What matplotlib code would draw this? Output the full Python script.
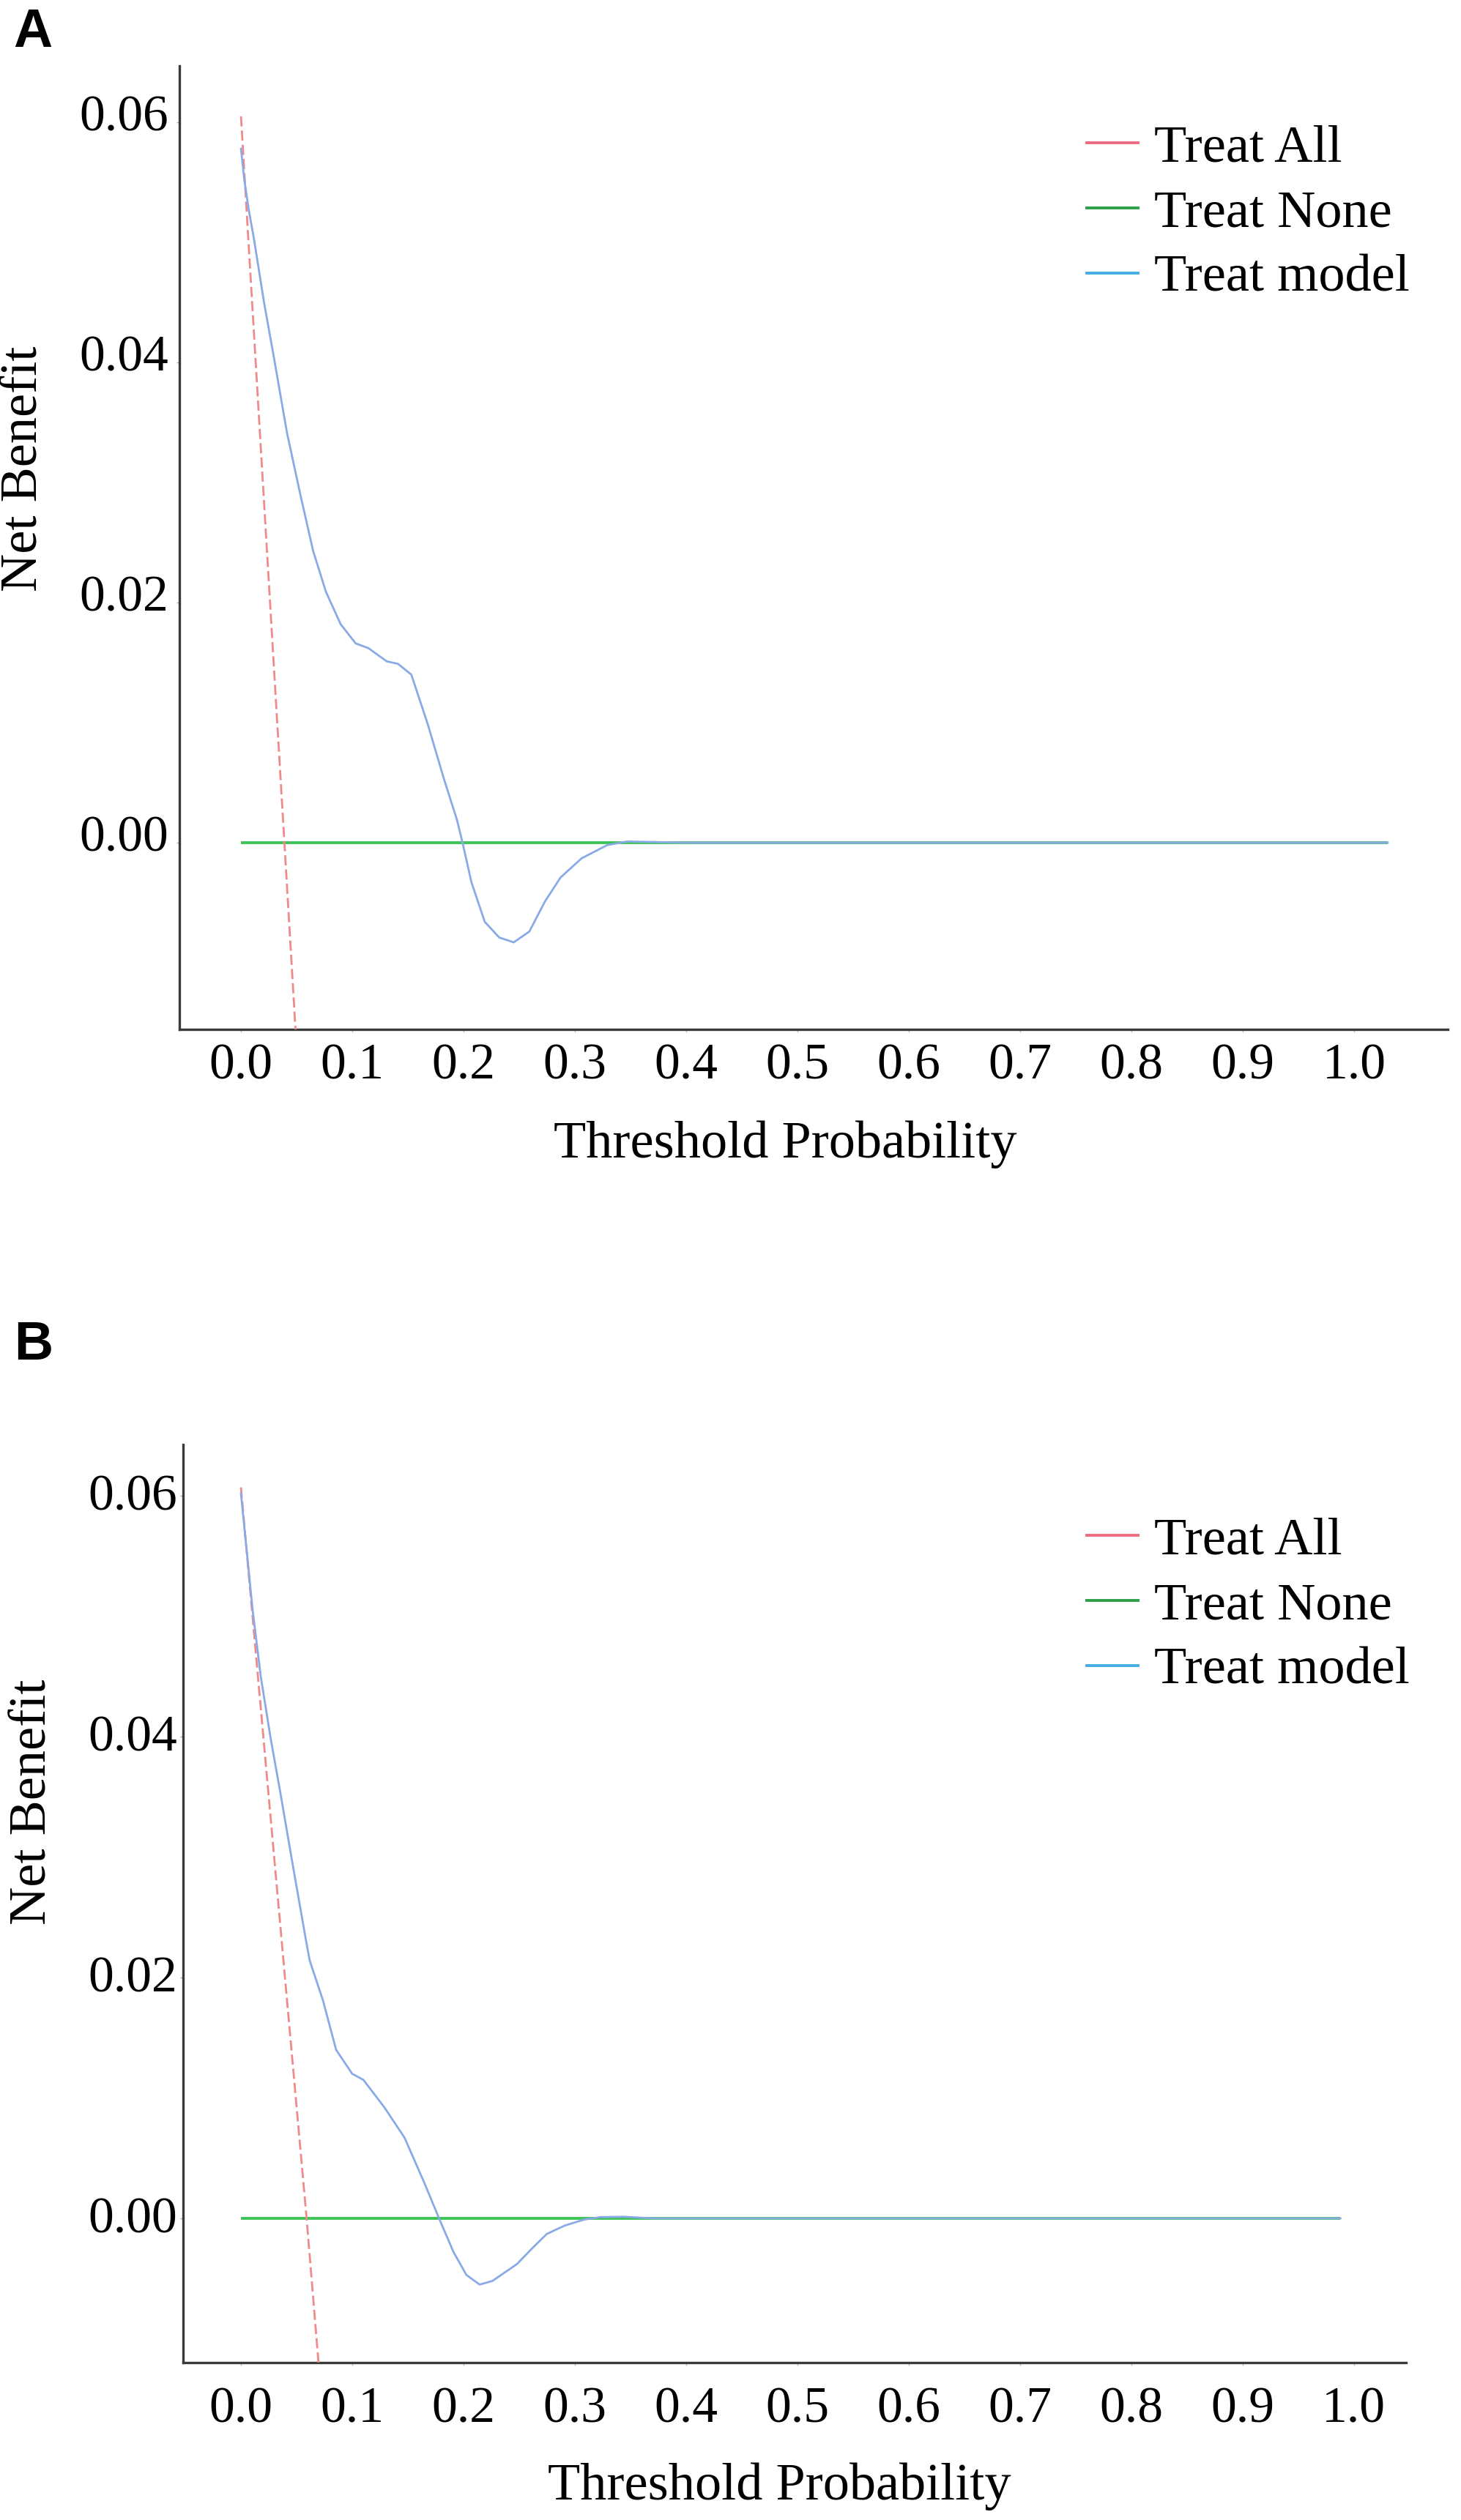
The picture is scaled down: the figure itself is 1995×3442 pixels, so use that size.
import matplotlib
matplotlib.use('Agg')
import matplotlib.pyplot as plt
from matplotlib.lines import Line2D
import matplotlib.transforms as mtransforms

plt.rcParams['font.family'] = ['Liberation Serif', 'DejaVu Serif']

# ---------------- data ----------------
series_labels = ['Treat All', 'Treat None', 'Treat model']
x_ticks = [0.0, 0.1, 0.2, 0.3, 0.4, 0.5, 0.6, 0.7, 0.8, 0.9, 1.0]
x_tick_labels = ['0.0', '0.1', '0.2', '0.3', '0.4', '0.5', '0.6', '0.7', '0.8', '0.9', '1.0']
y_ticks = [0.00, 0.02, 0.04, 0.06]
y_tick_labels = ['0.00', '0.02', '0.04', '0.06']
x_label = 'Threshold Probability'
y_label = 'Net Benefit'

# Panel A
a_all_t = [0.0, 0.039, 0.049]
a_all_nb = [0.0605, 0.0, -0.0156]
a_none_t = [0.0, 1.03]
a_none_nb = [0.0, 0.0]
a_model_t = [0.0, 0.0030, 0.0070, 0.0118, 0.0207, 0.0296, 0.0414, 0.0533, 0.0648, 0.0763,
             0.0895, 0.103, 0.1145, 0.131, 0.141, 0.153, 0.168, 0.182, 0.194, 0.199,
             0.207, 0.219, 0.232, 0.245, 0.259, 0.273, 0.287, 0.306, 0.329, 0.347,
             0.40, 1.03]
a_model_nb = [0.0578, 0.0552, 0.0527, 0.0502, 0.0450, 0.0404, 0.0341, 0.0290, 0.0243, 0.0209,
              0.0182, 0.0166, 0.0162, 0.0151, 0.0149, 0.0140, 0.0098, 0.0054, 0.0019, 0.0,
              -0.0033, -0.0066, -0.0079, -0.0083, -0.0074, -0.0049, -0.0029, -0.0013, -0.0002, 0.0001,
              0.0, 0.0]

# Panel B
b_all_t = [0.0, 0.059, 0.0697]
b_all_nb = [0.0607, 0.0, -0.0120]
b_none_t = [0.0, 0.988]
b_none_nb = [0.0, 0.0]
b_model_t = [0.0, 0.0105, 0.0178, 0.0266, 0.0355, 0.0457, 0.0584, 0.0618, 0.0737, 0.0855,
             0.100, 0.110, 0.129, 0.147, 0.165, 0.178, 0.191, 0.2026, 0.2145, 0.226,
             0.248, 0.2616, 0.2748, 0.291, 0.3086, 0.323, 0.344, 0.37, 0.988]
b_model_nb = [0.0602, 0.0505, 0.0450, 0.0399, 0.0353, 0.0298, 0.0231, 0.0214, 0.0181, 0.0140,
              0.0120, 0.0115, 0.0092, 0.0067, 0.0029, 0.0, -0.0028, -0.0047, -0.0055, -0.0052,
              -0.0038, -0.0025, -0.0013, -0.0006, -0.0001, 0.0001, 0.00013, 0.0, 0.0]

# ---------------- figure ----------------
W, H = 1995, 3442
DPI = 100
fig = plt.figure(figsize=(W / DPI, H / DPI), dpi=DPI, facecolor='white')


def px_axes(left, top, right, bottom):
    return [left / W, 1 - bottom / H, (right - left) / W, (bottom - top) / H]


line_red = '#F08A8A'
line_green = '#3DC456'
line_blue = '#8AAAE6'
leg_red = '#EE6C80'
leg_green = '#2F9E4A'
leg_blue = '#45AEE6'
spine_col = '#3a3a3a'

panels = [
    dict(letter='A', letter_xy=(18, 64), rect=(245, 90, 1977, 1406),
         xlim=(-0.0553, 1.084), ylim=(-0.01555, 0.0647),
         all_t=a_all_t, all_nb=a_all_nb, none_t=a_none_t, none_nb=a_none_nb,
         model_t=a_model_t, model_nb=a_model_nb,
         xpad=10.7, ypad=7.8, ylab_shift=9.4,
         xlabel_xy=(1072, 1563), ylabel_xy=(33, 640), legend_xy=(1484, 170)),
    dict(letter='B', letter_xy=(19, 1857), rect=(250, 1973, 1920, 3227),
         xlim=(-0.052, 1.047), ylim=(-0.01198, 0.06426),
         all_t=b_all_t, all_nb=b_all_nb, none_t=b_none_t, none_nb=b_none_nb,
         model_t=b_model_t, model_nb=b_model_nb,
         xpad=20.8, ypad=2.5, ylab_shift=3.5,
         xlabel_xy=(1064, 3396), ylabel_xy=(45, 2461), legend_xy=(1484, 2072)),
]

for p in panels:
    l, t, r, b = p['rect']
    ax = fig.add_axes(px_axes(l, t, r, b))
    ax.set_facecolor('white')

    ax.plot(p['none_t'], p['none_nb'], color=line_green, lw=2.8, solid_capstyle='butt', zorder=2)
    ax.plot(p['all_t'], p['all_nb'], color=line_red, lw=2.0, dashes=(5, 2), zorder=3)
    ax.plot(p['model_t'], p['model_nb'], color=line_blue, lw=2.0, zorder=4)

    ax.set_xlim(*p['xlim'])
    ax.set_ylim(*p['ylim'])
    ax.set_xticks(x_ticks)
    ax.set_xticklabels(x_tick_labels)
    ax.set_yticks(y_ticks)
    ax.set_yticklabels(y_tick_labels)

    for side in ('top', 'right'):
        ax.spines[side].set_visible(False)
    for side in ('left', 'bottom'):
        ax.spines[side].set_color(spine_col)
        ax.spines[side].set_linewidth(2.4)

    ax.tick_params(axis='x', length=3, width=1, color='#bbbbbb', labelsize=50,
                   pad=p['xpad'], labelcolor='black')
    ax.tick_params(axis='y', length=3, width=1, color='#aaaaaa', labelsize=50,
                   pad=p['ypad'], labelcolor='black')
    offset = mtransforms.ScaledTranslation(0, p['ylab_shift'] / 72, fig.dpi_scale_trans)
    for lab in ax.get_yticklabels():
        lab.set_transform(lab.get_transform() + offset)

    # axis labels
    ax.set_xlabel(x_label, fontsize=52)
    ax.xaxis.label.set_va('center')
    xlx, xly = p['xlabel_xy']
    ax.xaxis.set_label_coords((xlx - l) / (r - l), (b - xly) / (b - t))
    ax.set_ylabel(y_label, fontsize=52)
    ax.yaxis.label.set_va('center')
    ylx, yly = p['ylabel_xy']
    ax.yaxis.set_label_coords((ylx - l) / (r - l), (b - yly) / (b - t))

    # legend
    handles = [Line2D([], [], color=leg_red, lw=2.8),
               Line2D([], [], color=leg_green, lw=2.8),
               Line2D([], [], color=leg_blue, lw=2.8)]
    lgx, lgy = p['legend_xy']
    ax.legend(handles, series_labels, loc='upper left',
              bbox_to_anchor=(lgx / W, 1 - lgy / H), bbox_transform=fig.transFigure,
              frameon=False, fontsize=52, handlelength=0.97, handletextpad=0.3,
              labelspacing=0.32, borderpad=0, borderaxespad=0)

    # panel letter
    lx, ly = p['letter_xy']
    fig.text(lx / W, 1 - ly / H, p['letter'], fontsize=53, fontweight='bold',
             family=['Liberation Sans', 'DejaVu Sans'], ha='left', va='baseline')

fig.savefig('out.png', dpi=DPI, facecolor='white')
